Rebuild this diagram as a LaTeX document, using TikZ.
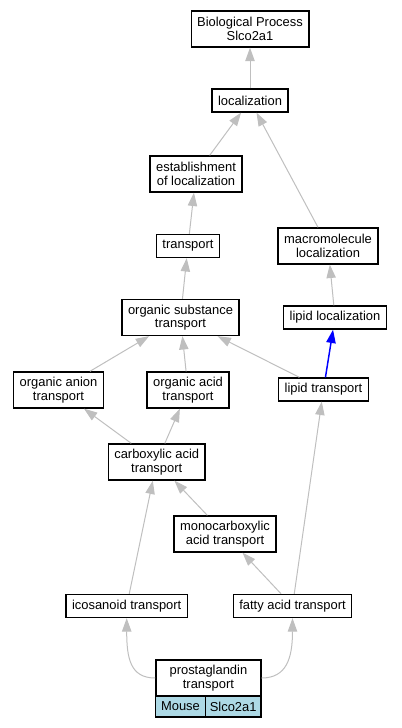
\documentclass[tikz,border=0pt]{standalone}
\usepackage{fontspec}
\setmainfont{Liberation Sans}
\usetikzlibrary{arrows.meta}
\definecolor{edgeG}{rgb}{0.75,0.75,0.75}
\definecolor{cellB}{rgb}{0.68,0.85,0.90}

\begin{document}
\begin{tikzpicture}[x=0.75pt, y=-0.75pt, >={Triangle[length=10pt,width=7pt]},
  term/.style={draw=black, line width=1pt, fill=white, inner xsep=4.5pt, inner ysep=2pt,
    minimum height=17.25pt, align=center, font=\fontsize{9.7}{10}\selectfont},
  termtwo/.style={term, minimum height=27pt},
  cell/.style={term, fill=cellB, inner xsep=2pt, minimum height=15.75pt},
  isa/.style={->, draw=edgeG, line width=0.75pt},
  partof/.style={->, draw=blue, line width=1.1pt}]
\useasboundingbox (0,0) rectangle (401,728);
% ---------- 上部 ----------
\node[termtwo] (bp) at (250,29) {Biological Process\\Slco2a1};
\node[term] (loc) at (250,100.5) {localization};
\node[termtwo] (estab) at (196,174) {establishment\\of localization};
\node[term] (transp) at (188,246) {transport};
\node[termtwo] (macro) at (328,246) {macromolecule\\localization};
% ---------- 中部 ----------
\node[termtwo] (ost) at (180.5,317.5) {organic substance\\transport};
\node[term] (lipidloc) at (335,317.5) {lipid localization};
\node[termtwo] (anion) at (58.5,390) {organic anion\\transport};
\node[termtwo] (oacid) at (188,390) {organic acid\\transport};
\node[term] (lipidtr) at (323.5,389.5) {lipid transport};
\node[termtwo] (carb) at (156.7,462) {carboxylic acid\\transport};
\node[termtwo] (mono) at (225,534) {monocarboxylic\\acid transport};
% ---------- 下部 ----------
\node[term] (ico) at (126.7,606) {icosanoid transport};
\node[term] (fatty) at (292.5,606) {fatty acid transport};
\node[termtwo, minimum width=78.75pt] (pg) at (208.4,678) {prostaglandin\\transport};
\node[cell, minimum width=37.2pt] (mouse) at (180.5,706.5) {Mouse};
\node[cell, minimum width=41.8pt] (gene) at (233.2,706.5) {Slco2a1};
% 边
\draw[isa] (loc) -- (bp);
\draw[isa] (estab) -- (loc);
\draw[isa] (macro) -- (loc);
\draw[isa] (transp) -- (estab);
\draw[isa] (ost) -- (transp);
\draw[isa] (lipidloc) -- (macro);
\draw[isa] (anion) -- (ost);
\draw[isa] (oacid) -- (ost);
\draw[isa] (lipidtr) -- (ost);
\draw[partof] (lipidtr) -- (lipidloc);
\draw[isa] (carb) -- (anion);
\draw[isa] (carb) -- (oacid);
\draw[isa] (mono) -- (carb);
\draw[isa] (ico) -- (carb);
\draw[isa] (fatty) -- (mono);
\draw[isa] (fatty) -- (lipidtr);
\draw[isa] (pg.west) .. controls +(-25,0) and +(0,40) .. (ico.south);
\draw[isa] (pg.east) .. controls +(25,0) and +(0,40) .. (fatty.south);
\end{tikzpicture}
\end{document}
